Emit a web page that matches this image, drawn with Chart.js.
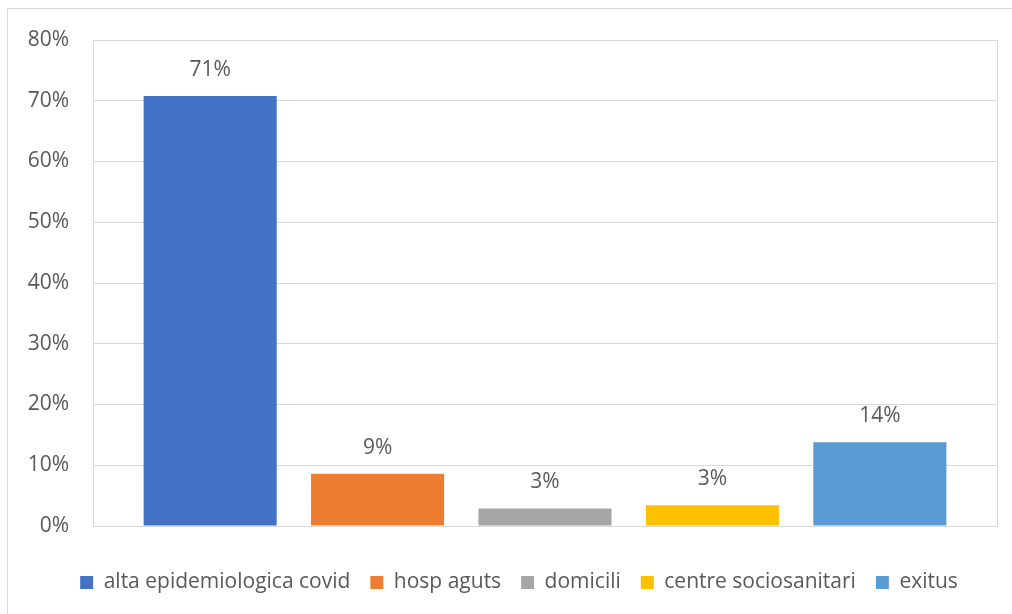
<!DOCTYPE html>
<html>
<head>
<meta charset="utf-8">
<script src="https://cdn.jsdelivr.net/npm/chart.js@4"></script>
<style>
  html, body { margin: 0; padding: 0; background: #ffffff; overflow: hidden; }
  #frame { position: absolute; left: 7px; top: 8px; width: 1022px; height: 618px; border: 1px solid #d9d9d9; }
</style>
</head>
<body>
<div id="frame"><canvas id="chart" width="1022" height="618"></canvas></div>
<script>
const categories = ['alta epidemiologica covid', 'hosp aguts', 'domicili', 'centre sociosanitari', 'exitus'];
const values = [70.8, 8.6, 2.9, 3.4, 13.8];
const colors = ['#4472C4', '#ED7D31', '#A5A5A5', '#FFC000', '#5B9BD5'];
const yTicks = [0, 10, 20, 30, 40, 50, 60, 70, 80];

const textColor = '#595959';
const fontFamily = '"Open Sans", "Liberation Sans", sans-serif';

// every category is its own series, all clustered on one x slot
const datasets = categories.map((name, i) => ({
    label: name,
    data: [values[i]],
    backgroundColor: colors[i],
    borderWidth: 0
}));

// box round the plot area
const plotBox = {
    id: 'plotBox',
    beforeDatasetsDraw(chart) {
	const a = chart.chartArea;
	const ctx = chart.ctx;
	ctx.save();
	ctx.strokeStyle = '#d9d9d9';
	ctx.lineWidth = 1;
	ctx.strokeRect(Math.round(a.left) + 0.5, Math.round(a.top) + 0.5,
		       Math.round(a.right - a.left), Math.round(a.bottom - a.top));
	ctx.restore();
    }
};

// value labels above the bars
const barLabels = {
    id: 'barLabels',
    afterDatasetsDraw(chart) {
	const ctx = chart.ctx;
	ctx.save();
	ctx.fillStyle = textColor;
	ctx.font = '21px ' + fontFamily;
	ctx.textAlign = 'center';
	ctx.textBaseline = 'middle';
	chart.data.datasets.forEach((ds, i) => {
	    chart.getDatasetMeta(i).data.forEach((bar, j) => {
		ctx.fillText(Math.round(ds.data[j]) + '%', bar.x, bar.y - 26);
	    });
	});
	ctx.restore();
    }
};

Chart.defaults.font.family = fontFamily;
Chart.defaults.color = textColor;

new Chart(document.getElementById('chart'), {
    type: 'bar',
    data: {
	labels: [''],
	datasets: datasets
    },
    options: {
	responsive: false,
	animation: false,
	categoryPercentage: 0.926,
	barPercentage: 0.795,
	layout: {
	    padding: { top: 31, right: 0, left: 0, bottom: 24 }
	},
	plugins: {
	    tooltip: { enabled: false },
	    legend: {
		position: 'bottom',
		labels: {
		    boxWidth: 13,
		    boxHeight: 13,
		    padding: 20,
		    color: textColor,
		    font: { size: 21 }
		}
	    }
	},
	scales: {
	    x: {
		ticks: { display: false },
		grid: { display: false },
		border: { display: false },
		afterFit: (s) => { s.height += 18; }
	    },
	    y: {
		min: 0,
		max: 80,
		afterFit: (s) => { s.width = 85; s.paddingTop = 0; },
		afterBuildTicks: (s) => { s.ticks = yTicks.map(v => ({ value: v })); },
		ticks: {
		    padding: 24,
		    color: textColor,
		    font: { size: 21 },
		    callback: (v) => v + '%'
		},
		grid: { color: '#d9d9d9', drawTicks: false },
		border: { display: false }
	    },
	    // empty right-hand axis, only keeps the margin right of the plot
	    yRight: {
		position: 'right',
		min: 0,
		max: 80,
		ticks: { display: false },
		grid: { display: false },
		border: { display: false },
		afterFit: (s) => { s.width = 33; s.paddingTop = 0; }
	    }
	}
    },
    plugins: [plotBox, barLabels]
});
</script>
</body>
</html>
